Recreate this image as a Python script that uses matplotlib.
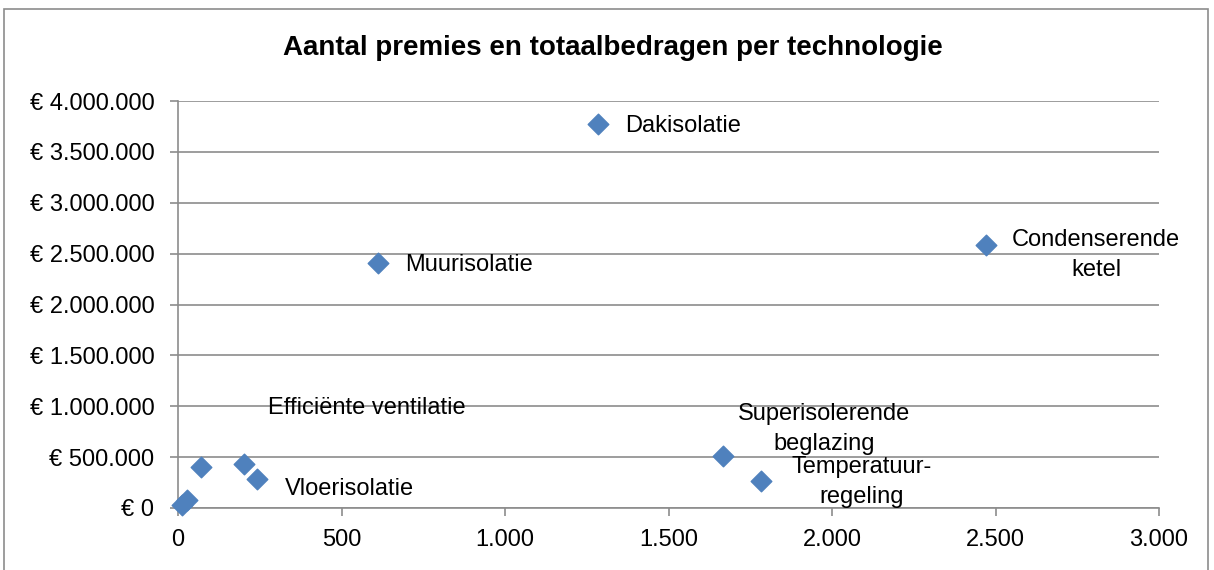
import matplotlib.pyplot as plt
from matplotlib.patches import Rectangle
from matplotlib.ticker import FuncFormatter, MultipleLocator

# ================= DATA =================
technologies = ["Dakisolatie", "Muurisolatie", "Condenserende\nketel",
                "Superisolerende\nbeglazing", "Temperatuur-\nregeling",
                "Efficiënte ventilatie", "Vloerisolatie", "", "", ""]
aantal = [1284, 612, 2471, 1667, 1783, 203, 243, 70, 27, 11]
bedrag = [3774000, 2408000, 2585000, 511000, 265000, 432000, 282000, 403000, 79000, 30000]
# label offsets (pixels) and alignment per point
label_offsets = [(27, -2), (27, -2), (110, -10), (101, 27), (101, -1),
                 (122, 56), (27, -10), (0, 0), (0, 0), (0, 0)]
label_ha = ["left", "left", "center", "center", "center", "center", "left", "left", "left", "left"]

plt.rcParams['font.family'] = ['Liberation Sans', 'DejaVu Sans']

fig = plt.figure(figsize=(12.14, 5.70), dpi=100)
fig.patches.append(Rectangle((4 / 1214, -0.01), 1204 / 1214, 1 - 9 / 570 + 0.01,
                             transform=fig.transFigure, fill=False,
                             edgecolor='#8c8c8c', linewidth=1.2))
ax = fig.add_axes([178 / 1214, 1 - 508 / 570, 981 / 1214, 407 / 570])

ax.scatter(aantal, bedrag, marker='D', s=110, color='#4f81bd', zorder=3, clip_on=False)

for name, x, y, off, ha in zip(technologies, aantal, bedrag, label_offsets, label_ha):
    if name:
        ax.annotate(name, (x, y), xytext=off, textcoords='offset pixels',
                    ha=ha, va='center', fontsize=17, linespacing=1.45)

ax.set_xlim(0, 3000)
ax.set_ylim(0, 4000000)
ax.xaxis.set_major_locator(MultipleLocator(500))
ax.yaxis.set_major_locator(MultipleLocator(500000))


def dutch(v):
    return f"{int(round(v)):,}".replace(",", ".")


ax.xaxis.set_major_formatter(FuncFormatter(lambda v, p: dutch(v)))
ax.yaxis.set_major_formatter(FuncFormatter(lambda v, p: "€ " + dutch(v)))

ax.grid(axis='y', color='#8c8c8c', linewidth=1.2)
ax.set_axisbelow(True)
for side in ['top', 'right']:
    ax.spines[side].set_visible(False)
for side in ['left', 'bottom']:
    ax.spines[side].set_color('#8c8c8c')
    ax.spines[side].set_linewidth(1.2)
ax.tick_params(axis='both', length=6, width=1.2, color='#8c8c8c', labelsize=17)
ax.tick_params(axis='y', pad=11)
ax.tick_params(axis='x', pad=9)

fig.text(613 / 1214, 1 - 48 / 570, "Aantal premies en totaalbedragen per technologie",
         ha='center', va='center', fontsize=20, fontweight='bold')

fig.savefig("out.png", dpi=100)
